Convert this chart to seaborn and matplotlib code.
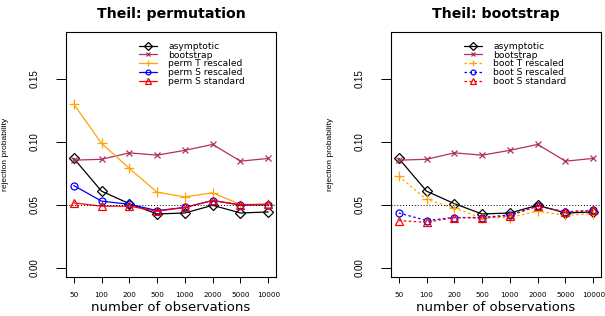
import numpy as np
import pandas as pd
import matplotlib
matplotlib.use("Agg")
import matplotlib.pyplot as plt
import seaborn as sns

n_obs = ["50", "100", "200", "500", "1000", "2000", "5000", "10000"]

asymptotic = [0.0869, 0.0609, 0.0510, 0.0428, 0.0436, 0.0497, 0.0436, 0.0444]
bootstrap = [0.0855, 0.0862, 0.0913, 0.0895, 0.0933, 0.0980, 0.0847, 0.0869]

perm_T_rescaled = [0.1300, 0.0988, 0.0790, 0.0600, 0.0564, 0.0596, 0.0503, 0.0507]
perm_S_rescaled = [0.0654, 0.0530, 0.0505, 0.0455, 0.0480, 0.0535, 0.0500, 0.0500]
perm_S_standard = [0.0516, 0.0490, 0.0490, 0.0450, 0.0480, 0.0535, 0.0500, 0.0505]

boot_T_rescaled = [0.0728, 0.0543, 0.0476, 0.0396, 0.0400, 0.0450, 0.0418, 0.0430]
boot_S_rescaled = [0.0436, 0.0376, 0.0400, 0.0400, 0.0420, 0.0490, 0.0444, 0.0458]
boot_S_standard = [0.0376, 0.0362, 0.0400, 0.0396, 0.0415, 0.0490, 0.0444, 0.0458]

pos = np.arange(1, len(n_obs) + 1)

sns.set_style("white", {"text.color": "black", "axes.labelcolor": "black",
                        "xtick.color": "black", "ytick.color": "black"})
plt.rcParams['font.family'] = ['DejaVu Sans']

fig = plt.figure(figsize=(6.05, 3.16), dpi=100)
ax1 = fig.add_axes([66 / 605, 39 / 316, 210 / 605, 245 / 316])
ax2 = fig.add_axes([391 / 605, 39 / 316, 210 / 605, 245 / 316])


def draw_panel(ax, title, series):
    for label, vals, color, marker, ms, ls in series:
        sns.lineplot(x=pos, y=vals, ax=ax, color=color, marker=marker,
                     markersize=ms, markerfacecolor="none", markeredgecolor=color,
                     markeredgewidth=0.9, linewidth=0.9, linestyle=ls, label=label)
    ax.axhline(0.05, color="black", linestyle=(0, (1, 2)), linewidth=0.7)
    ax.set_xlim(0.72, 8.28)
    ax.set_ylim(-0.0072, 0.1872)
    ax.set_xticks(pos)
    ax.set_xticklabels(n_obs, fontsize=5.2)
    ax.set_yticks([0.0, 0.05, 0.10, 0.15])
    ax.set_yticklabels(["0.00", "0.05", "0.10", "0.15"], fontsize=7,
                       rotation=90, va="center", family="Liberation Sans")
    ax.tick_params(axis="x", direction="out", length=4, width=0.7, color="black", bottom=True, pad=7)
    ax.tick_params(axis="y", direction="out", length=7, width=0.7, color="black", left=True, pad=12)
    for s in ax.spines.values():
        s.set_color("black")
        s.set_linewidth(0.8)
    ax.set_title(title, fontsize=10.2, fontweight="bold", pad=10)
    ax.set_xlabel("number of observations", fontsize=9.5, labelpad=2)
    ax.set_ylabel("rejection probability", fontsize=6, labelpad=15, family="Liberation Sans")
    ax.legend(loc="upper left", bbox_to_anchor=(0.33, 0.975), frameon=False,
              fontsize=6.6, labelspacing=-0.02, handlelength=2.0, handletextpad=1.2,
              borderaxespad=0, markerscale=0.7)


draw_panel(ax1, "Theil: permutation", [
    ("asymptotic", asymptotic, "black", "D", 5.5, "-"),
    ("bootstrap", bootstrap, "#B03060", "x", 5, "-"),
    ("perm T rescaled", perm_T_rescaled, "orange", "+", 7, "-"),
    ("perm S rescaled", perm_S_rescaled, "blue", "o", 5, "-"),
    ("perm S standard", perm_S_standard, "red", "^", 5.5, "-"),
])

draw_panel(ax2, "Theil: bootstrap", [
    ("asymptotic", asymptotic, "black", "D", 5.5, "-"),
    ("bootstrap", bootstrap, "#B03060", "x", 5, "-"),
    ("boot T rescaled", boot_T_rescaled, "orange", "+", 7, (0, (2, 2))),
    ("boot S rescaled", boot_S_rescaled, "blue", "o", 5, (0, (2, 2))),
    ("boot S standard", boot_S_standard, "red", "^", 5.5, (0, (2, 2))),
])

fig.savefig("out.png", dpi=100)
